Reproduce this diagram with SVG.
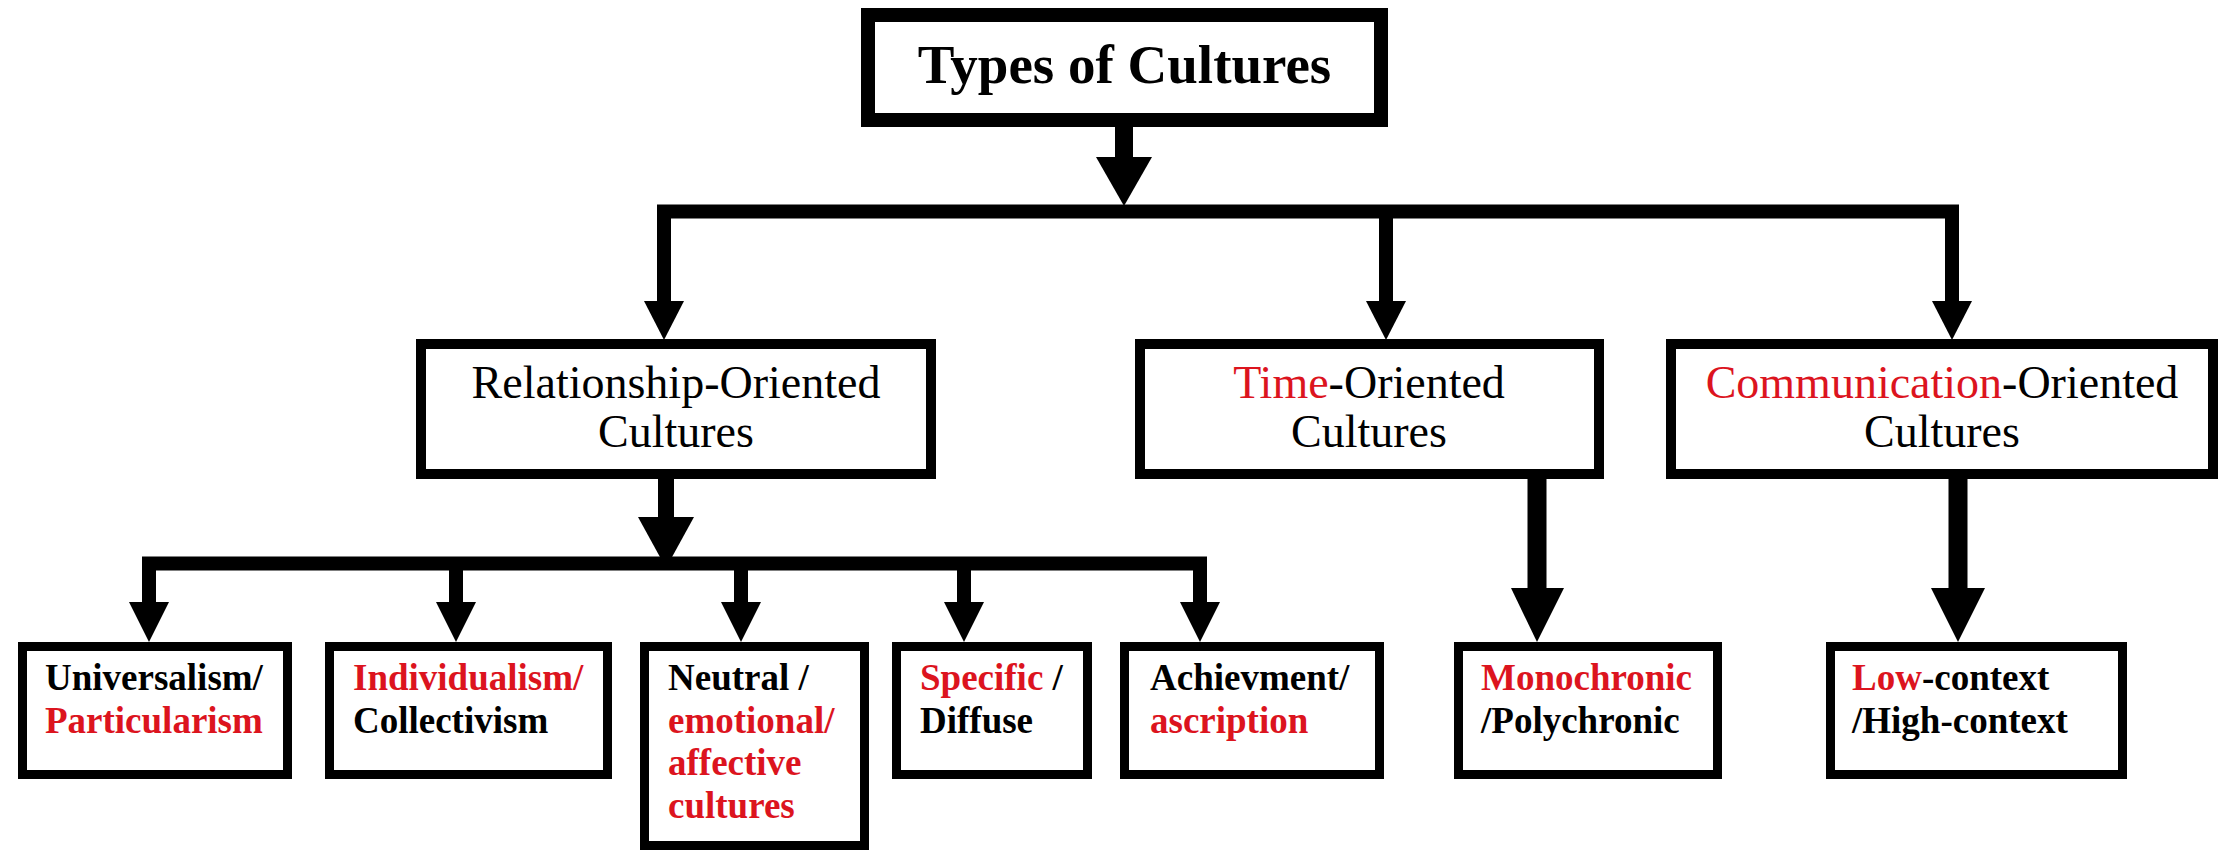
<svg xmlns="http://www.w3.org/2000/svg" width="2224" height="854" viewBox="0 0 2224 854">
<style>
  .bg { fill: #ffffff; }
  .box { fill: #ffffff; stroke: #000000; stroke-width: 9; }
  .box-mid { fill: #ffffff; stroke: #000000; stroke-width: 10; }
  .box-top { fill: #ffffff; stroke: #000000; stroke-width: 14; }
  .wire { fill: none; stroke: #000000; stroke-width: 14; stroke-linejoin: miter; stroke-linecap: butt; }
  .head { fill: #000000; stroke: none; }
  .title { font-family: 'Liberation Serif', serif !important; font-size: 55px; font-weight: bold; text-anchor: middle; fill: #000000; }
  .mid { font-family: 'Liberation Serif', serif !important; font-size: 46px; text-anchor: middle; fill: #000000; }
  .small { font-family: 'Liberation Serif', serif !important; font-size: 37px; font-weight: bold; fill: #000000; }
  .red { fill: #dc141e; }
</style>
<rect class="bg" x="0" y="0" width="2224" height="854"/>

<g id="connectors">
  <path class="wire" style="stroke-width:18" d="M1124,127 V160"/>
  <polygon class="head" points="1096,157 1152,157 1124,206"/>
  <path class="wire" d="M664,303 V211.5 H1952 V303"/>
  <path class="wire" d="M1386,211 V303"/>
  <polygon class="head" points="644,301 684,301 664,340"/>
  <polygon class="head" points="1366,301 1406,301 1386,340"/>
  <polygon class="head" points="1932,301 1972,301 1952,340"/>
  <path class="wire" style="stroke-width:16" d="M666,479 V520"/>
  <polygon class="head" points="638,517 694,517 666,568"/>
  <path class="wire" d="M149,604 V563.5 H1200 V604"/>
  <path class="wire" d="M456,563 V604"/>
  <path class="wire" d="M741,563 V604"/>
  <path class="wire" d="M964,563 V604"/>
  <polygon class="head" points="129,602 169,602 149,642"/>
  <polygon class="head" points="436,602 476,602 456,642"/>
  <polygon class="head" points="721,602 761,602 741,642"/>
  <polygon class="head" points="944,602 984,602 964,642"/>
  <polygon class="head" points="1180,602 1220,602 1200,642"/>
  <path class="wire" style="stroke-width:19" d="M1537,479 V591"/>
  <polygon class="head" points="1511,588 1564,588 1537,642"/>
  <path class="wire" style="stroke-width:19" d="M1958,479 V591"/>
  <polygon class="head" points="1931,588 1985,588 1958,642"/>
</g>

<g id="node-types">
  <rect class="box-top" x="868" y="15" width="513" height="105"/>
  <text class="title" x="1124.5" y="83" font-family="Liberation Serif, serif" style="font-family:'Liberation Serif',serif">Types of Cultures</text>
</g>

<g id="node-relationship">
  <rect class="box-mid" x="421" y="344" width="510" height="130"/>
  <text class="mid" x="676" y="398" font-family="Liberation Serif, serif" style="font-family:'Liberation Serif',serif">Relationship-Oriented</text>
  <text class="mid" x="676" y="447" font-family="Liberation Serif, serif" style="font-family:'Liberation Serif',serif">Cultures</text>
</g>

<g id="node-time">
  <rect class="box-mid" x="1140" y="344" width="459" height="130"/>
  <text class="mid" x="1369" y="398" font-family="Liberation Serif, serif" style="font-family:'Liberation Serif',serif"><tspan class="red">Time</tspan>-Oriented</text>
  <text class="mid" x="1369" y="447" font-family="Liberation Serif, serif" style="font-family:'Liberation Serif',serif">Cultures</text>
</g>

<g id="node-communication">
  <rect class="box-mid" x="1671" y="344" width="542" height="130"/>
  <text class="mid" x="1942" y="398" font-family="Liberation Serif, serif" style="font-family:'Liberation Serif',serif"><tspan class="red">Communication</tspan>-Oriented</text>
  <text class="mid" x="1942" y="447" font-family="Liberation Serif, serif" style="font-family:'Liberation Serif',serif">Cultures</text>
</g>

<g id="node-universalism">
  <rect class="box" x="22.5" y="646.5" width="265" height="128"/>
  <text class="small" x="45" y="690" font-family="Liberation Serif, serif" style="font-family:'Liberation Serif',serif">Universalism/</text>
  <text class="small red" x="45" y="733" font-family="Liberation Serif, serif" style="font-family:'Liberation Serif',serif">Particularism</text>
</g>

<g id="node-individualism">
  <rect class="box" x="329.5" y="646.5" width="278" height="128"/>
  <text class="small red" x="353" y="690" font-family="Liberation Serif, serif" style="font-family:'Liberation Serif',serif">Individualism/</text>
  <text class="small" x="353" y="733" font-family="Liberation Serif, serif" style="font-family:'Liberation Serif',serif">Collectivism</text>
</g>

<g id="node-neutral">
  <rect class="box" x="644.5" y="646.5" width="220" height="199"/>
  <text class="small" x="668" y="690" font-family="Liberation Serif, serif" style="font-family:'Liberation Serif',serif">Neutral /</text>
  <text class="small red" x="668" y="733" font-family="Liberation Serif, serif" style="font-family:'Liberation Serif',serif">emotional/</text>
  <text class="small red" x="668" y="775" font-family="Liberation Serif, serif" style="font-family:'Liberation Serif',serif">affective</text>
  <text class="small red" x="668" y="818" font-family="Liberation Serif, serif" style="font-family:'Liberation Serif',serif">cultures</text>
</g>

<g id="node-specific">
  <rect class="box" x="896.5" y="646.5" width="191" height="128"/>
  <text class="small" x="920" y="690" font-family="Liberation Serif, serif" style="font-family:'Liberation Serif',serif"><tspan class="red">Specific</tspan> /</text>
  <text class="small" x="920" y="733" font-family="Liberation Serif, serif" style="font-family:'Liberation Serif',serif">Diffuse</text>
</g>

<g id="node-achievement">
  <rect class="box" x="1124.5" y="646.5" width="255" height="128"/>
  <text class="small" x="1150" y="690" font-family="Liberation Serif, serif" style="font-family:'Liberation Serif',serif">Achievment/</text>
  <text class="small red" x="1150" y="733" font-family="Liberation Serif, serif" style="font-family:'Liberation Serif',serif">ascription</text>
</g>

<g id="node-monochronic">
  <rect class="box" x="1458.5" y="646.5" width="259" height="128"/>
  <text class="small red" x="1481" y="690" font-family="Liberation Serif, serif" style="font-family:'Liberation Serif',serif">Monochronic</text>
  <text class="small" x="1481" y="733" font-family="Liberation Serif, serif" style="font-family:'Liberation Serif',serif">/Polychronic</text>
</g>

<g id="node-lowcontext">
  <rect class="box" x="1830.5" y="646.5" width="292" height="128"/>
  <text class="small" x="1852" y="690" font-family="Liberation Serif, serif" style="font-family:'Liberation Serif',serif"><tspan class="red">Low</tspan>-context</text>
  <text class="small" x="1852" y="733" font-family="Liberation Serif, serif" style="font-family:'Liberation Serif',serif">/High-context</text>
</g>
</svg>
